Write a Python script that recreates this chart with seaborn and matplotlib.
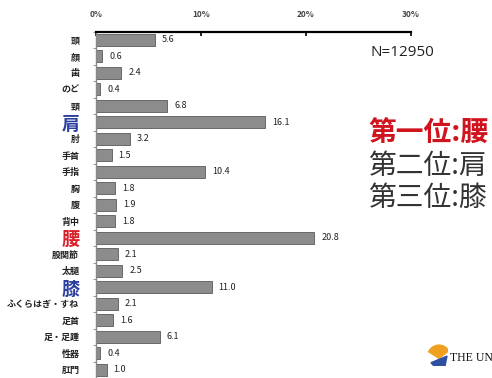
import matplotlib
matplotlib.use("Agg")
import matplotlib.pyplot as plt
from matplotlib.patches import Wedge, Polygon
import seaborn as sns
import pandas as pd
import numpy as np

sns.set_theme(style="white")
plt.rcParams["font.family"] = ["Noto Sans CJK JP", "DejaVu Sans"]

parts = ["頭", "顔", "歯", "のど", "頸", "肩", "肘", "手首", "手指", "胸", "腹", "背中",
         "腰", "股関節", "太腿", "膝", "ふくらはぎ・すね", "足首", "足・足踵", "性器", "肛門"]
percent = [5.6, 0.6, 2.4, 0.4, 6.8, 16.1, 3.2, 1.5, 10.4, 1.8, 1.9, 1.8,
           20.8, 2.1, 2.5, 11.0, 2.1, 1.6, 6.1, 0.4, 1.0]
x_ticks = [0, 10, 20, 30]
x_tick_labels = ["0%", "10%", "20%", "30%"]
highlight = {"肩": "#2b3f9e", "腰": "#d8202a", "膝": "#2b3f9e"}
ranking = ["第一位:腰", "第二位:肩", "第三位:膝"]
ranking_colors = ["#d0141e", "#333333", "#333333"]
sample_note = "N=12950"

df = pd.DataFrame({"part": parts, "percent": percent})

fig = plt.figure(figsize=(4.92, 3.78), dpi=100)
fig.patch.set_facecolor("white")
ax = fig.add_axes([96 / 492, 0.0, 315 / 492, 1 - 31.5 / 378])

sns.barplot(data=df, x="percent", y="part", orient="h", color="#8c8c8c",
            width=0.7, edgecolor="#5a5a5a", linewidth=0.6, saturation=1, ax=ax)

ax.set_xlim(0, 30)
ax.set_ylim(len(parts) - 0.5, -0.5)
ax.set_xlabel("")
ax.set_ylabel("")

# Percent axis along the top
ax.xaxis.tick_top()
ax.set_xticks(x_ticks)
ax.set_xticklabels(x_tick_labels, fontsize=6, fontweight="bold", color="#444444")
ax.tick_params(axis="x", direction="in", length=3, width=1.2, color="black", pad=9)

for side in ["right", "bottom"]:
    ax.spines[side].set_visible(False)
ax.spines["top"].set_color("black")
ax.spines["top"].set_linewidth(1.6)
ax.spines["left"].set_color("#888888")
ax.spines["left"].set_linewidth(1.0)

# Category labels, with the three most common parts emphasised
ax.tick_params(axis="y", length=0, pad=12)
for lbl in ax.get_yticklabels():
    name = lbl.get_text()
    if name in highlight:
        lbl.set_color(highlight[name])
        lbl.set_fontsize(13)
        lbl.set_fontweight("bold")
    else:
        lbl.set_color("#222222")
        lbl.set_fontsize(6.5)
        lbl.set_fontweight("bold")

# Small separators on the left spine
ax.set_yticks(np.arange(-0.5, len(parts), 1), minor=True)
ax.tick_params(axis="y", which="minor", left=True, length=2, width=0.6, color="#888888")

# Value labels at bar ends
for i, v in enumerate(percent):
    ax.annotate(f"{v:.1f}", xy=(v, i), xytext=(5, 0), textcoords="offset points",
                va="center", ha="left", fontsize=6.5, color="#222222",
                annotation_clip=False)

# Notes on the right
fig.text(370 / 492, 1 - 52 / 378, sample_note, fontsize=11, color="#222222",
         va="center", ha="left", family=["Open Sans", "DejaVu Sans"])
for k, (txt, col) in enumerate(zip(ranking, ranking_colors)):
    fig.text(368 / 492, 1 - (134 + 32 * k) / 378, txt, fontsize=20, color=col,
             fontweight="bold" if k == 0 else "normal", va="center", ha="left")

# Institution mark in the lower right corner
logo = fig.add_axes([428 / 492, 1 - 366 / 378, 20 / 492, 22 / 378])
logo.set_xlim(0, 1)
logo.set_ylim(0, 1)
logo.axis("off")
logo.add_patch(Wedge((0.55, 0.35), 0.6, 35, 150, color="#f0a020"))
logo.add_patch(Polygon([[0.15, 0.15], [0.95, 0.45], [0.85, 0.0], [0.3, 0.0]],
                       closed=True, color="#2f4fa0"))
fig.text(450 / 492, 1 - 358 / 378, "THE UNIVERSITY OF TOKYO", fontsize=8.5,
         family=["Liberation Serif", "DejaVu Serif"], color="#111111",
         va="center", ha="left")

fig.savefig("out.png", dpi=100)
